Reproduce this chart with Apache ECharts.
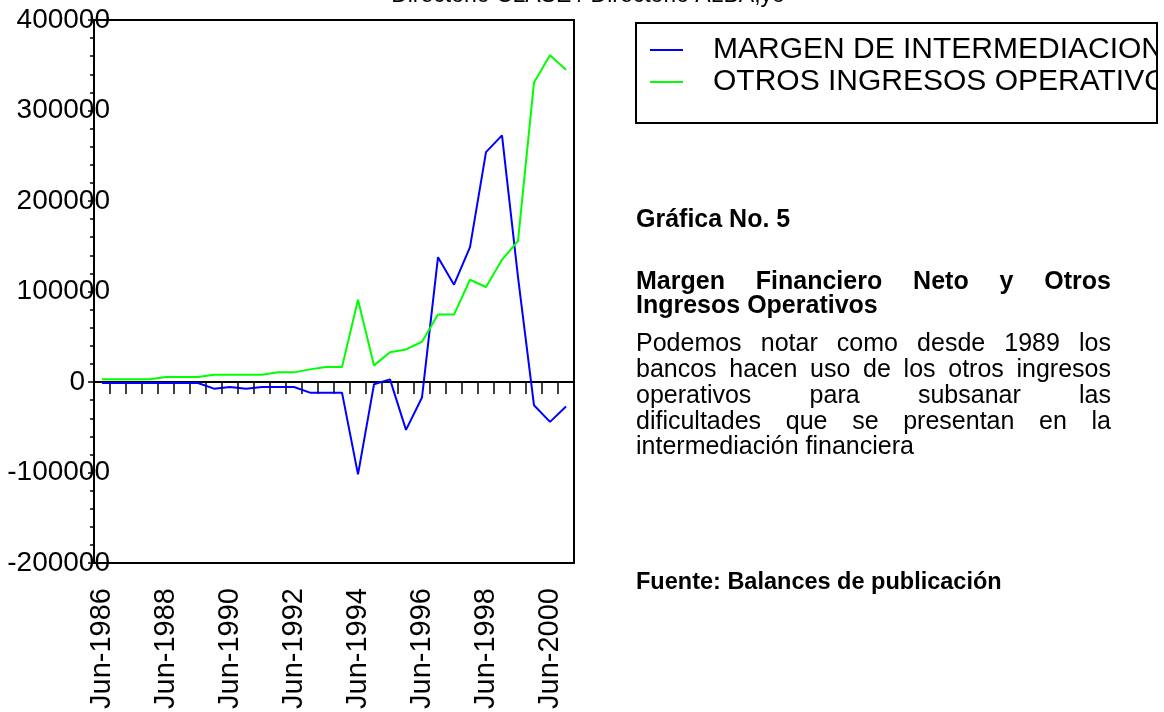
<!DOCTYPE html>
<html><head><meta charset="utf-8">
<script src="https://cdn.jsdelivr.net/npm/echarts@6/dist/echarts.min.js"></script>
<style>html,body{margin:0;padding:0;background:#fff}#c{width:1164px;height:712px}</style>
</head><body><div id="c"></div>
<script>
// ---- data ----
const categories = ['Jun-1986','Dec-1986','Jun-1987','Dec-1987','Jun-1988','Dec-1988','Jun-1989','Dec-1989',
  'Jun-1990','Dec-1990','Jun-1991','Dec-1991','Jun-1992','Dec-1992','Jun-1993','Dec-1993','Jun-1994','Dec-1994',
  'Jun-1995','Dec-1995','Jun-1996','Dec-1996','Jun-1997','Dec-1997','Jun-1998','Dec-1998','Jun-1999','Dec-1999',
  'Jun-2000','Dec-2000'];
const margenIntermediacion = [-1000,-1000,-1000,-1000,-1000,-1000,-1000,-7300,-5500,-7300,-5500,-5500,-5500,
  -11700,-11700,-11700,-102000,-2500,3000,-52800,-17000,138000,107600,149000,254000,272500,116000,-25700,-44000,-27000];
const otrosIngresos = [3000,3000,3000,3000,5500,5500,5500,8100,8100,8100,8100,10700,10700,14000,16500,16500,
  91000,18400,33000,36000,44500,74500,74500,113000,105000,135000,156000,331000,361000,345000];
const seriesNames = ['MARGEN DE INTERMEDIACION FINANCIERA','OTROS INGRESOS OPERATIVOS'];
const yTicks = { min: -200000, max: 400000, step: 100000 };

const FF = '"Liberation Sans", Arial, Helvetica, sans-serif';
const chart = echarts.init(document.getElementById('c'));

// ---- side text (justified lines) ----
const mctx = document.createElement('canvas').getContext('2d');
const TX0 = 636, TX1 = 1111;
const graphics = [];
function textEl(str, x, y, size, weight) {
  return { type: 'text', x: x, y: y, z: 100,
    style: { text: str, fontSize: size, fontWeight: weight, fontFamily: FF, fill: '#000', align: 'left', verticalAlign: 'middle' } };
}
function justifiedLine(str, y, size, weight) {
  const words = str.split(' ');
  mctx.font = weight + ' ' + size + 'px ' + FF;
  const w = words.map(s => mctx.measureText(s).width);
  const tot = w.reduce((a, b) => a + b, 0);
  const gap = (TX1 - TX0 - tot) / (words.length - 1);
  let x = TX0;
  words.forEach((s, i) => { graphics.push(textEl(s, x, y, size, weight)); x += w[i] + gap; });
}
graphics.push({ type: 'text', x: 588, y: -4, z: 100,
  style: { text: 'Directorio CLASE / Directorio ALBA;yo', fontSize: 23, fontFamily: FF, fill: '#000', align: 'center', verticalAlign: 'middle' } });
graphics.push(textEl('Gráfica No. 5', TX0, 220, 25, 'bold'));
justifiedLine('Margen Financiero Neto y Otros', 282, 25, 'bold');
graphics.push(textEl('Ingresos Operativos', TX0, 306, 25, 'bold'));
justifiedLine('Podemos notar como desde 1989 los', 344, 25, 'normal');
justifiedLine('bancos hacen uso de los otros ingresos', 370, 25, 'normal');
justifiedLine('operativos para subsanar las', 396, 25, 'normal');
justifiedLine('dificultades que se presentan en la', 422, 25, 'normal');
graphics.push(textEl('intermediación financiera', TX0, 447, 25, 'normal'));
graphics.push(textEl('Fuente: Balances de publicación', TX0, 583, 23.5, 'bold'));
// legend frame + clip cover
graphics.push({ type: 'rect', z: 100, shape: { x: 1158, y: 24, width: 10, height: 98 }, style: { fill: '#fff' } });
graphics.push({ type: 'rect', z: 101, shape: { x: 636, y: 23, width: 521, height: 100 }, style: { fill: null, stroke: '#000', lineWidth: 2 } });

chart.setOption({
  animation: false,
  textStyle: { fontFamily: FF },
  grid: { left: 94, top: 20, right: 590, bottom: 147, show: true, borderColor: '#000', borderWidth: 2, containLabel: false },
  legend: {
    left: 650, top: 35, orient: 'vertical', padding: 0, itemGap: 2,
    icon: 'rect', itemWidth: 33, itemHeight: 2,
    textStyle: { fontSize: 30, color: '#000', fontFamily: FF, padding: [0, 0, 0, 25] },
    data: seriesNames
  },
  xAxis: [
    { type: 'category', data: categories, boundaryGap: true,
      axisLine: { onZero: true, lineStyle: { color: '#000', width: 2 } },
      axisTick: { show: true, interval: 0, length: 12, lineStyle: { color: '#000', width: 1.5 } },
      axisLabel: { show: false }, splitLine: { show: false } },
    { type: 'category', data: categories, boundaryGap: true, position: 'bottom',
      axisLine: { show: false, onZero: false }, axisTick: { show: false },
      axisLabel: { show: true, interval: 3, rotate: 90, margin: 25, fontSize: 29, color: '#000', fontFamily: FF,
        padding: [0, 0, 16, 0] },
      splitLine: { show: false } }
  ],
  yAxis: {
    type: 'value', min: yTicks.min, max: yTicks.max, interval: yTicks.step,
    axisLine: { show: true, lineStyle: { color: '#000', width: 2 } },
    axisTick: { show: true, length: 6, lineStyle: { color: '#000', width: 1.5 } },
    minorTick: { show: true, splitNumber: 5, length: 4, lineStyle: { color: '#000', width: 1.5 } },
    axisLabel: { fontSize: 28, color: '#000', margin: -16, fontFamily: FF,
      formatter: v => v === 0 ? '{z|0}' : String(v),
      rich: { z: { fontSize: 28, color: '#000', fontFamily: FF, padding: [0, 25, 0, 0] } } },
    splitLine: { show: false }
  },
  series: [
    { name: seriesNames[0], type: 'line', xAxisIndex: 0, data: margenIntermediacion, symbol: 'none',
      lineStyle: { color: '#0000ff', width: 2 }, itemStyle: { color: '#0000ff' } },
    { name: seriesNames[1], type: 'line', xAxisIndex: 0, data: otrosIngresos, symbol: 'none',
      lineStyle: { color: '#00ff00', width: 2 }, itemStyle: { color: '#00ff00' } }
  ],
  graphic: graphics
});
</script></body></html>
